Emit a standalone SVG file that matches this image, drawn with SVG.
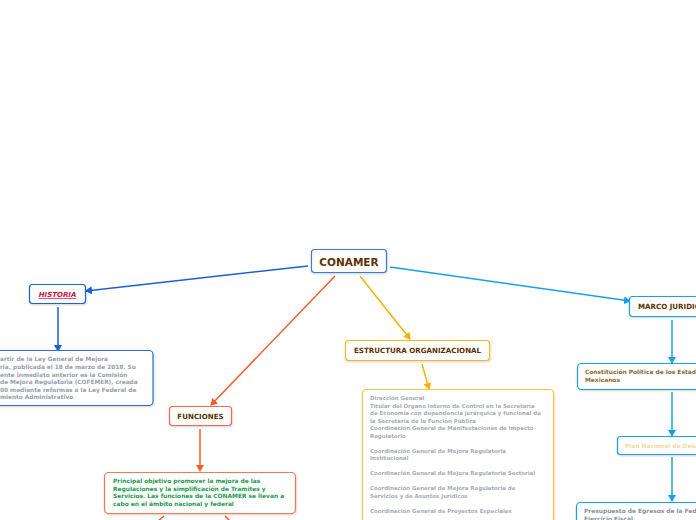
<svg xmlns="http://www.w3.org/2000/svg" width="696" height="520" viewBox="0 0 696 520">
<style>
text{font-family:"DejaVu Sans","Verdana",sans-serif;font-weight:bold}
.box{fill:#fff;stroke-width:1.2}
.c{fill:none;stroke-width:1.5}
.t7{font-size:7.1px;fill:#5a3300}
.sm{font-size:5.9px}
.xs{font-size:5.45px;fill:#a8acb4}
</style>
<defs>
<filter id="sh" x="-10%" y="-20%" width="130%" height="160%"><feDropShadow dx="0.5" dy="1" stdDeviation="0.8" flood-color="#000" flood-opacity="0.18"/></filter>
<marker id="mB" markerWidth="8" markerHeight="8" refX="6" refY="4" orient="auto" markerUnits="userSpaceOnUse"><path d="M0,0L7,4L0,8Z" fill="#1a62d2"/></marker>
<marker id="mO" markerWidth="8" markerHeight="8" refX="6" refY="4" orient="auto" markerUnits="userSpaceOnUse"><path d="M0,0L7,4L0,8Z" fill="#f45a2a"/></marker>
<marker id="mY" markerWidth="8" markerHeight="8" refX="6" refY="4" orient="auto" markerUnits="userSpaceOnUse"><path d="M0,0L7,4L0,8Z" fill="#f8b000"/></marker>
<marker id="mL" markerWidth="8" markerHeight="8" refX="6" refY="4" orient="auto" markerUnits="userSpaceOnUse"><path d="M0,0L7,4L0,8Z" fill="#12a2ee"/></marker>
</defs>
<rect width="696" height="520" fill="#fff"/>
<g id="connectors">
<line class="c" x1="308" y1="266" x2="86" y2="291" stroke="#1a62d2" marker-end="url(#mB)"/>
<line class="c" x1="58" y1="307" x2="58" y2="351" stroke="#1a62d2" marker-end="url(#mB)"/>
<line class="c" x1="335" y1="276" x2="211" y2="405" stroke="#f45a2a" marker-end="url(#mO)"/>
<line class="c" x1="200" y1="429" x2="200" y2="471" stroke="#f45a2a" marker-end="url(#mO)"/>
<line class="c" x1="164" y1="516" x2="158" y2="521" stroke="#f45a2a"/>
<line class="c" x1="225" y1="516" x2="230" y2="521" stroke="#f45a2a"/>
<line class="c" x1="360" y1="276" x2="410" y2="339" stroke="#f8b000" marker-end="url(#mY)"/>
<line class="c" x1="422" y1="364" x2="429" y2="389" stroke="#f8b000" marker-end="url(#mY)"/>
<line class="c" x1="390" y1="267" x2="630" y2="301" stroke="#12a2ee" marker-end="url(#mL)"/>
<line class="c" x1="672" y1="320" x2="672" y2="363" stroke="#12a2ee" marker-end="url(#mL)"/>
<line class="c" x1="672" y1="392" x2="672" y2="436" stroke="#12a2ee" marker-end="url(#mL)"/>
<line class="c" x1="672" y1="457" x2="672" y2="501" stroke="#12a2ee" marker-end="url(#mL)"/>
</g>
<g id="conamer">
<rect class="box" x="311.5" y="249.5" width="75" height="23" rx="3" stroke="#3a7ad6" filter="url(#sh)"/>
<text x="349" y="265.5" text-anchor="middle" font-size="10.5" fill="#5a3300">CONAMER</text>
</g>
<g id="historia">
<rect class="box" x="29.5" y="284.5" width="56" height="19" rx="3" stroke="#1a62d2" filter="url(#sh)"/>
<text x="57.5" y="297" text-anchor="middle" font-size="7" font-style="italic" fill="#d0103a" text-decoration="underline">HISTORIA</text>
</g>
<g id="historia-texto">
<rect class="box" x="-20" y="350.5" width="173" height="55" rx="4" stroke="#2a6fd6" filter="url(#sh)"/>
<g font-size="5.8px" fill="#9a9ea8">
<text x="0" y="361">artir de la Ley General de Mejora</text>
<text x="0" y="369">ria, publicada el 18 de marzo de 2018. Su</text>
<text x="0" y="376.5">ente inmediato anterior es la Comisión</text>
<text x="0" y="384">de Mejora Regulatoria (COFEMER), creada</text>
<text x="0" y="391.5">00 mediante reformas a la Ley Federal de</text>
<text x="0" y="399">miento Administrativo</text>
</g>
</g>
<g id="funciones">
<rect class="box" x="169.5" y="406.5" width="62" height="19" rx="3" stroke="#f06a48" filter="url(#sh)"/>
<text x="200.5" y="419" text-anchor="middle" class="t7">FUNCIONES</text>
</g>
<g id="objetivo">
<rect class="box" x="104.5" y="472.5" width="191" height="41" rx="4" stroke="#f07a58" filter="url(#sh)"/>
<g class="sm" fill="#1a9a4c">
<text x="113" y="483">Principal objetivo promover la mejora de las</text>
<text x="113" y="490.5">Regulaciones y la simplificación de Tramites y</text>
<text x="113" y="498">Servicios. Las funciones de la CONAMER se llevan a</text>
<text x="113" y="505.5">cabo en el ámbito nacional y federal</text>
</g>
</g>
<g id="estructura">
<rect class="box" x="345.5" y="340.5" width="144" height="20" rx="3" stroke="#f5b820" filter="url(#sh)"/>
<text x="354" y="353" class="t7">ESTRUCTURA ORGANIZACIONAL</text>
</g>
<g id="estructura-texto">
<rect class="box" x="362.5" y="389.5" width="191" height="140" rx="4" stroke="#f7c440" filter="url(#sh)"/>
<g class="xs">
<text x="370" y="400">Dirección General</text>
<text x="370" y="407.5">Titular del Órgano Interno de Control en la Secretaría</text>
<text x="370" y="415">de Economía con dependencia jerárquica y funcional de</text>
<text x="370" y="422.5">la Secretaría de la Función Pública</text>
<text x="370" y="430">Coordinación General de Manifestaciones de Impacto</text>
<text x="370" y="438">Regulatorio</text>
<text x="370" y="452.5">Coordinación General de Mejora Regulatoria</text>
<text x="370" y="460">Institucional</text>
<text x="370" y="475">Coordinación General de Mejora Regulatoria Sectorial</text>
<text x="370" y="490">Coordinación General de Mejora Regulatoria de</text>
<text x="370" y="497.5">Servicios y de Asuntos Jurídicos</text>
<text x="370" y="512.5">Coordinación General de Proyectos Especiales</text>
</g>
</g>
<g id="marco">
<rect class="box" x="629.5" y="296.5" width="80" height="20" rx="3" stroke="#12a2ee" filter="url(#sh)"/>
<text x="638" y="309" class="t7">MARCO JURIDICO</text>
</g>
<g id="constitucion">
<rect class="box" x="577.5" y="363.5" width="130" height="26" rx="4" stroke="#12a2ee" filter="url(#sh)"/>
<g class="sm" fill="#8a6a34">
<text x="585" y="374">Constitución Política de los Estados</text>
<text x="585" y="381.5">Mexicanos</text>
</g>
</g>
<g id="plan">
<rect class="box" x="617.5" y="436.5" width="90" height="18" rx="3" stroke="#12a2ee" filter="url(#sh)"/>
<text x="625" y="448" class="sm" fill="#f2d8a0">Plan Nacional de Desarrollo</text>
</g>
<g id="presupuesto">
<rect class="box" x="576.5" y="502.5" width="130" height="30" rx="4" stroke="#12a2ee" filter="url(#sh)"/>
<g class="sm" fill="#8a909c">
<text x="584" y="513">Presupuesto de Egresos de la Federación</text>
<text x="584" y="520.5">Ejercicio Fiscal</text>
</g>
</g>
</svg>
